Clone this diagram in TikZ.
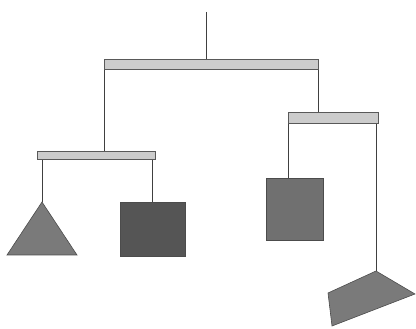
\documentclass[tikz,border=0pt]{standalone}
\usepackage{tikz}
\usetikzlibrary{calc}
\definecolor{barFill}{RGB}{204, 204, 204}
\definecolor{wtLight}{RGB}{122, 122, 122}
\definecolor{wtMid}{RGB}{112, 112, 112}
\definecolor{wtDark}{RGB}{85, 85, 85}

\begin{document}
\begin{tikzpicture}[x=1pt, y=-1pt,
    string/.style={draw=black!75, line width=0.9pt},
    bar/.style={draw=black!65, fill=barFill, line width=0.9pt},
    weight/.style={draw=black!70, line width=0.6pt}]
  \useasboundingbox (0,0) rectangle (416,329);
  % hanging points
  \coordinate (hook) at (206,12);
  \coordinate (topMid) at (206,59);
  \coordinate (topL) at (104,69);
  \coordinate (topR) at (318,69);
  \coordinate (subL) at (104,151);
  \coordinate (subR) at (318,112);
  \coordinate (leftA) at (42,159);
  \coordinate (leftB) at (152,159);
  \coordinate (rightA) at (288,123);
  \coordinate (rightB) at (376,123);
  \coordinate (triTop) at (42,202);
  \coordinate (sqTop) at (152,202);
  \coordinate (boxTop) at (288,178);
  \coordinate (quadTop) at (376,271);

  % strings
  \draw[string] (hook) -- (topMid);
  \draw[string] (topL) -- (subL);
  \draw[string] (topR) -- (subR);
  \draw[string] (leftA) -- (triTop);
  \draw[string] (leftB) -- (sqTop);
  \draw[string] (rightA) -- (boxTop);
  \draw[string] (rightB) -- (quadTop);

  % bars
  \draw[bar] (104,59) rectangle (318,69);
  \draw[bar] (37,151) rectangle (155,159);
  \draw[bar] (288,112) rectangle (378,123);

  % weights
  \draw[weight, fill=wtLight] (triTop) -- (77,255) -- (7,255) -- cycle;
  \draw[weight, fill=wtDark] (120,202) rectangle (185,256);
  \draw[weight, fill=wtMid] (266,178) rectangle (323,240);
  \draw[weight, fill=wtLight] (quadTop) -- (415,294) -- (332,326) -- (328,293) -- cycle;
\end{tikzpicture}
\end{document}
